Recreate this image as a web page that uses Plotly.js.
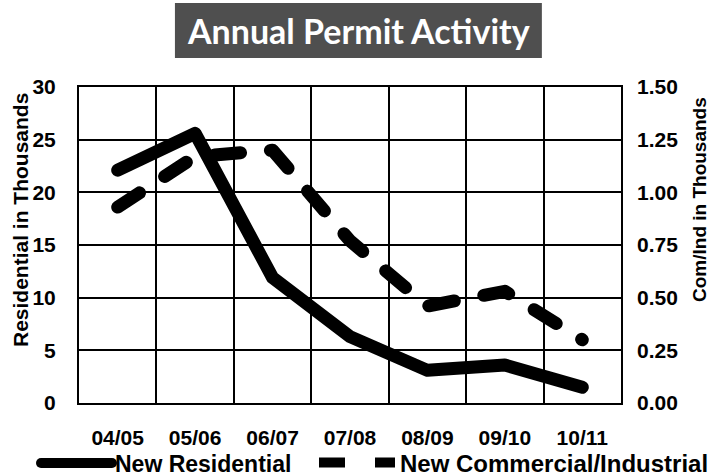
<!DOCTYPE html>
<html>
<head>
<meta charset="utf-8">
<script src="https://cdn.plot.ly/plotly-3.0.1.min.js"></script>
<style>html,body{margin:0;padding:0;background:#fff;}</style>
</head>
<body>
<div id="chart" style="width:709px;height:476px;"></div>
<script>
const years = ["04/05", "05/06", "06/07", "07/08", "08/09", "09/10", "10/11"];
const residential = [22.1, 25.6, 11.9, 6.3, 3.1, 3.6, 1.5];
const comInd = [0.93, 1.17, 1.20, 0.77, 0.46, 0.53, 0.30];
const leftTicks = [0, 5, 10, 15, 20, 25, 30];
const rightTicks = [0, 0.25, 0.5, 0.75, 1.0, 1.25, 1.5];

const FAM = "Liberation Sans, Arial, sans-serif";
const TICKFONT = {family: FAM, size: 21, color: "#000", weight: "bold"};

const traces = [
  {x: years, y: residential, name: "New Residential", type: "scatter", mode: "lines",
   line: {color: "#000", width: 13}, yaxis: "y", legend: "legend"},
  {x: years, y: comInd, name: "New Commercial/Industrial", type: "scatter", mode: "lines",
   line: {color: "#000", width: 13, dash: "26px,30px"}, yaxis: "y2", legend: "legend2"}
];

const layout = {
  width: 709, height: 476,
  margin: {l: 79, r: 88, t: 87, b: 73, autoexpand: false},
  paper_bgcolor: "#fff", plot_bgcolor: "#fff",
  font: {family: FAM, size: 20, color: "#000", weight: "bold"},
  showlegend: true,
  legend: {orientation: "h", xref: "container", yref: "container", x: 30 / 709, xanchor: "left",
           y: 1 - 463 / 476, yanchor: "middle", itemwidth: 75, bgcolor: "rgba(0,0,0,0)",
           font: {family: FAM, size: 23, weight: "bold", color: "#000"}},
  legend2: {orientation: "h", xref: "container", yref: "container", x: 314 / 709, xanchor: "left",
            y: 1 - 463 / 476, yanchor: "middle", itemwidth: 76, bgcolor: "rgba(0,0,0,0)",
            font: {family: FAM, size: 24, weight: "bold", color: "#000"}},
  xaxis: {type: "category", categoryorder: "array", categoryarray: years,
          range: [-0.5, 6.5], tickson: "boundaries", showgrid: true,
          gridcolor: "#000", gridwidth: 2, showline: true, linecolor: "#000",
          linewidth: 2, mirror: true, ticks: "", ticklabelstandoff: 15,
          tickfont: TICKFONT, fixedrange: true},
  yaxis: {range: [0, 30], tickmode: "array", tickvals: leftTicks, showgrid: true, gridcolor: "#000",
          gridwidth: 2, showline: true, linecolor: "#000", linewidth: 2, mirror: true,
          zeroline: false, ticks: "", ticklabelstandoff: 17, tickfont: TICKFONT},
  yaxis2: {range: [0, 1.5], tickmode: "array", tickvals: rightTicks, tickformat: ".2f", overlaying: "y",
           side: "right", showgrid: false, zeroline: false, ticks: "", showline: false,
           ticklabelstandoff: 15, tickfont: TICKFONT},
  shapes: [
    {type: "rect", xref: "paper", yref: "paper", x0: 0.177, x1: 0.854, y0: 1.092, y1: 1.266,
     fillcolor: "#4f4f4f", line: {width: 0}, layer: "above"}
  ],
  annotations: [
    {text: "Annual Permit Activity", xref: "paper", yref: "paper", x: 0.5157, y: 1.18,
     xanchor: "center", yanchor: "middle", showarrow: false,
     font: {family: "Lato, Open Sans, sans-serif", size: 34, weight: "bold", color: "#fff"}},
    {text: "Residential in Thousands", xref: "paper", yref: "paper",
     x: (20 - 79) / 542, y: (403 - 220) / 316, xanchor: "center", yanchor: "middle", textangle: -90,
     showarrow: false, font: {family: FAM, size: 21, weight: "bold", color: "#000"}},
    {text: "Com/Ind in Thousands", xref: "paper", yref: "paper",
     x: (699 - 79) / 542, y: (403 - 200) / 316, xanchor: "center", yanchor: "middle", textangle: -90,
     showarrow: false, font: {family: FAM, size: 19, weight: "bold", color: "#000"}}
  ]
};

Plotly.newPlot("chart", traces, layout, {displayModeBar: false, staticPlot: true}).then(function () {
  document.querySelectorAll(".scatterlayer .js-line").forEach(function (p) {
    p.style.strokeLinecap = "round";
    p.style.strokeLinejoin = "round";
  });
  document.querySelectorAll("g.legend").forEach(function (lg) {
    lg.querySelectorAll(".legendlines path").forEach(function (p) {
      p.style.strokeLinecap = "round";
      const da = p.style.strokeDasharray || "";
      if (da !== "" && da !== "none") {
        p.setAttribute("d", "M12.5,0h54");
        p.style.strokeDasharray = "14px,23px,17px,100px";
      } else {
        p.setAttribute("d", "M11,0h71");
      }
    });
  });
});
</script>
</body>
</html>
